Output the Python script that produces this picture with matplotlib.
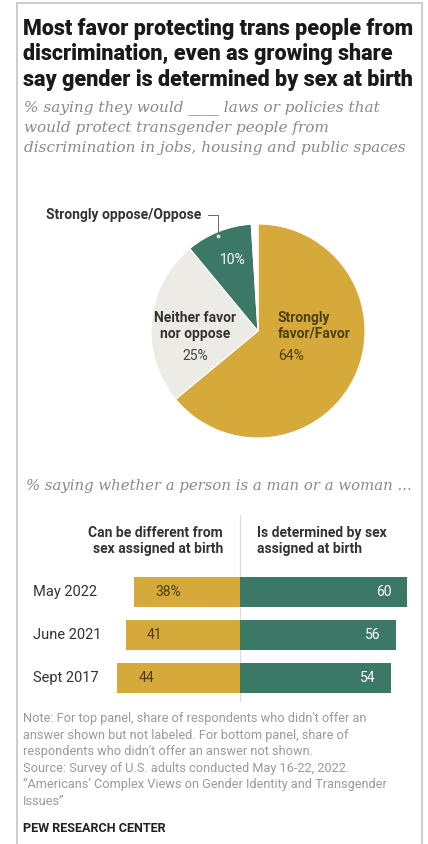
import matplotlib
matplotlib.use("Agg")
import matplotlib.pyplot as plt
from matplotlib.patches import Rectangle
from matplotlib.lines import Line2D

# ---- data ----
pie_labels = ["Strongly favor/Favor", "Neither favor nor oppose", "Strongly oppose/Oppose", "No answer"]
pie_values = [64, 25, 10, 1]

bar_years = ["May 2022", "June 2021", "Sept 2017"]
can_differ = [38, 41, 44]
determined = [60, 56, 54]
col_headers = ["Can be different from\nsex assigned at birth", "Is determined by sex\nassigned at birth"]

title = "Most favor protecting trans people from\ndiscrimination, even as growing share\nsay gender is determined by sex at birth"
subtitle = "% saying they would ____ laws or policies that\nwould protect transgender people from\ndiscrimination in jobs, housing and public spaces"
subtitle2 = "% saying whether a person is a man or a woman ..."
note = ("Note: For top panel, share of respondents who didn't offer an\n"
        "answer shown but not labeled. For bottom panel, share of\n"
        "respondents who didn't offer an answer not shown.\n"
        "Source: Survey of U.S. adults conducted May 16-22, 2022.\n"
        "\u201cAmericans\u2019 Complex Views on Gender Identity and Transgender\n"
        "Issues\u201d")

GOLD = "#D5A93A"
TEAL = "#3B7865"
LIGHT = "#EDEBE6"
W, H = 428, 844
SANS = ["Roboto", "DejaVu Sans"]
SERIF = ["DejaVu Serif"]
LBL = 10

fig = plt.figure(figsize=(W / 100, H / 100), dpi=100)
fig.patch.set_facecolor("white")

def fx(x):
    return x / W

def fy(y):
    return 1 - y / H

# frame
fig.add_artist(Rectangle((fx(17), fy(846)), fx(405), 843 / H, transform=fig.transFigure,
                         fill=False, edgecolor="#C9C9C9", linewidth=1.3))

fig.text(fx(23), fy(18), title, ha="left", va="top", fontsize=15.5, fontweight="black",
         family=SANS, color="#1a1a1a", linespacing=1.2)
fig.text(fx(24), fy(100), subtitle, ha="left", va="top", fontsize=11, style="italic",
         family=SERIF, color="#8a8a8a", linespacing=1.55)

# ---- pie ----
cx, cy, r = 258, 331, 107
pax = fig.add_axes([fx(cx - r), fy(cy + r), fx(2 * r), 2 * r / H])
pax.pie(pie_values, colors=[GOLD, LIGHT, TEAL, "white"], startangle=90, counterclock=False,
        radius=1, wedgeprops=dict(linewidth=0.8, edgecolor="white"))
pax.set_xlim(-1, 1)
pax.set_ylim(-1, 1)
pax.set_aspect("equal")
pax.axis("off")

def px_to_pie(x, y):
    return ((x - cx) / r, (cy - y) / r)

tx, ty = px_to_pie(278, 311)
pax.text(tx, ty, "Strongly\nfavor/Favor", ha="left", va="top", fontsize=LBL, fontweight="bold",
         family=SANS, color="#4d3f14", linespacing=1.15)
tx, ty = px_to_pie(278, 349)
pax.text(tx, ty, f"{pie_values[0]}%", ha="left", va="top", fontsize=LBL, family=SANS, color="#4d3f14")
tx, ty = px_to_pie(195, 311)
pax.text(tx, ty, "Neither favor\nnor oppose", ha="center", va="top", fontsize=LBL, fontweight="bold",
         family=SANS, color="#333333", linespacing=1.15)
tx, ty = px_to_pie(195, 349)
pax.text(tx, ty, f"{pie_values[1]}%", ha="center", va="top", fontsize=LBL, family=SANS, color="#444444")
tx, ty = px_to_pie(233, 260)
pax.text(tx, ty, f"{pie_values[2]}%", ha="center", va="center", fontsize=LBL, family=SANS, color="white")

fig.text(fx(46), fy(215), "Strongly oppose/Oppose", ha="left", va="center", fontsize=LBL,
         fontweight="bold", family=SANS, color="#333333")
fig.add_artist(Line2D([fx(208), fx(218), fx(218)], [fy(215), fy(215), fy(235)],
                      transform=fig.transFigure, color="#666666", linewidth=0.7))
fig.add_artist(Line2D([fx(218)], [fy(236)], transform=fig.transFigure, marker="o",
                      markersize=1.8, color="#dddddd", linewidth=0))

# ---- bars ----
fig.text(fx(26), fy(486), subtitle2, ha="left", va="center", fontsize=10.7, style="italic",
         family=SERIF, color="#8a8a8a")

zero_x, scale = 240, 2.79
ax_l, ax_r = 20, 420
y_top, y_bot, row0, step = 515, 702, 592, 43
bax = fig.add_axes([fx(ax_l), fy(y_bot), fx(ax_r - ax_l), (y_bot - y_top) / H])
bax.set_xlim(-(zero_x - ax_l) / scale, (ax_r - zero_x) / scale)
bax.set_ylim((y_bot - row0) / step, (y_top - row0) / step)
bax.axis("off")
ys = list(range(len(bar_years)))
bax.barh(ys, [-v for v in can_differ], height=0.7, color=GOLD)
bax.barh(ys, determined, height=0.7, color=TEAL)
bax.axvline(0, color="#dcdcdc", linewidth=0.9, zorder=0)
for i, (a, b, yr) in enumerate(zip(can_differ, determined, bar_years)):
    lab = f"{a}%" if i == 0 else f"{a}"
    bax.text(-a + 7.6, i, lab, ha="left", va="center", fontsize=LBL, family=SANS, color="#4d3f14")
    lab = f"{b}"
    bax.text(b - 5.5, i, lab, ha="right", va="center", fontsize=LBL, family=SANS, color="white")
    bax.text(-(zero_x - 33) / scale, i, yr, ha="left", va="center", fontsize=10.5, family=SANS,
             color="#333333")

fig.text(fx(223), fy(526), col_headers[0], ha="right", va="top", fontsize=LBL, fontweight="bold",
         family=SANS, color="#333333", linespacing=1.2, multialignment="right")
fig.text(fx(257), fy(526), col_headers[1], ha="left", va="top", fontsize=LBL, fontweight="bold",
         family=SANS, color="#333333", linespacing=1.2)

# ---- notes ----
fig.text(fx(23), fy(712), note, ha="left", va="top", fontsize=9.2, family=SANS, color="#9a9a9a",
         linespacing=1.36)
fig.text(fx(23), fy(828), "PEW RESEARCH CENTER", ha="left", va="center", fontsize=9.1,
         fontweight="bold", family=SANS, color="#222222")

fig.savefig("out.png", dpi=100, facecolor="white")
